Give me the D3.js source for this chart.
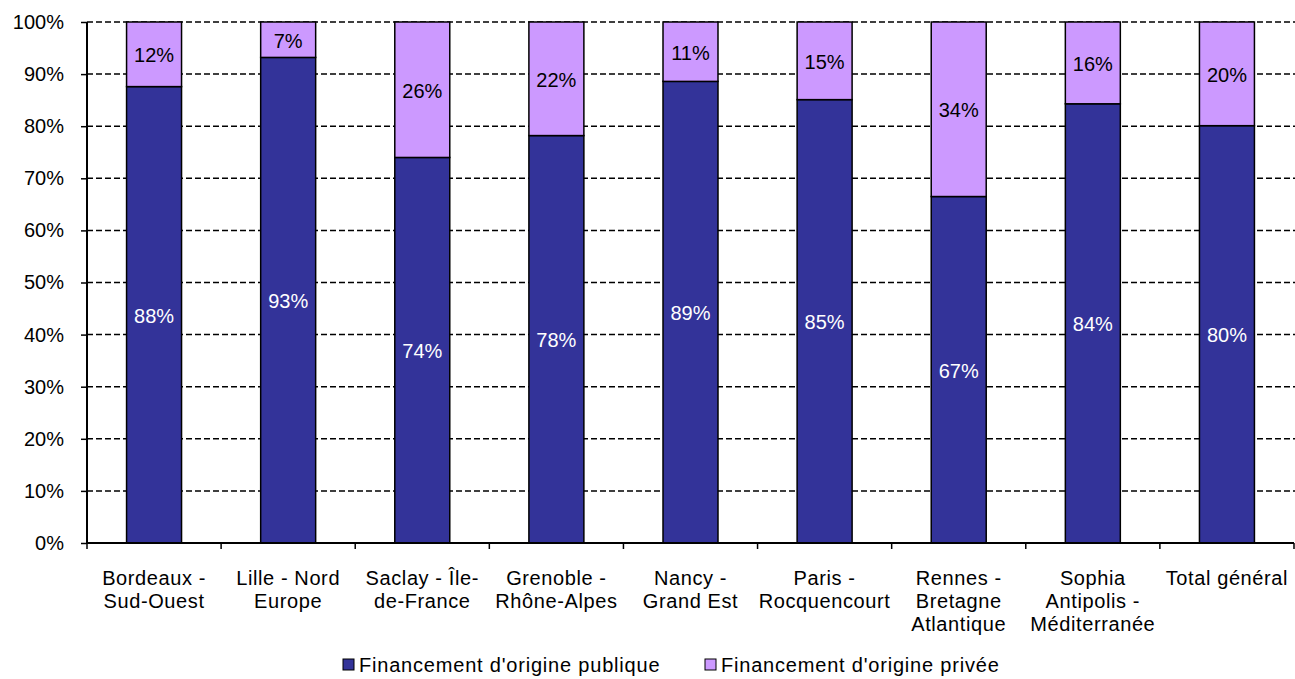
<!DOCTYPE html>
<html>
<head>
<meta charset="utf-8">
<script src="https://cdn.jsdelivr.net/npm/d3@7"></script>
<style>
  body { margin: 0; background: #fff; }
  svg text { font-family: "Liberation Sans", Arial, sans-serif; }
</style>
</head>
<body>
<div id="chart"></div>
<script>
// chart values
var categories = [
  ["Bordeaux -", "Sud-Ouest"],
  ["Lille - Nord", "Europe"],
  ["Saclay - Île-", "de-France"],
  ["Grenoble -", "Rhône-Alpes"],
  ["Nancy -", "Grand Est"],
  ["Paris -", "Rocquencourt"],
  ["Rennes -", "Bretagne", "Atlantique"],
  ["Sophia", "Antipolis -", "Méditerranée"],
  ["Total général"]
];
var publicShare = [87.6, 93.2, 74.0, 78.2, 88.6, 85.1, 66.5, 84.3, 80.1];
var privateShare = [12.4, 6.8, 26.0, 21.8, 11.4, 14.9, 33.5, 15.7, 19.9];
var yTicks = [0, 10, 20, 30, 40, 50, 60, 70, 80, 90, 100];
var seriesNames = ["Financement d'origine publique", "Financement d'origine privée"];
var seriesColors = ["#333399", "#CC99FF"];

var width = 1295, height = 679;
var plotLeft = 87, plotRight = 1294, plotTop = 22, plotBottom = 543;
var fontSize = "20px";

var svg = d3.select("#chart").append("svg")
  .attr("width", width)
  .attr("height", height);

var x = d3.scaleBand()
  .domain(d3.range(categories.length))
  .range([plotLeft, plotRight])
  .padding(0);
var barW = x.bandwidth() * 0.41;

var y = d3.scaleLinear()
  .domain([0, 100])
  .range([plotBottom, plotTop]);

// dashed gridlines
svg.append("g")
  .selectAll("line")
  .data(yTicks.filter(function(d) { return d > 0; }))
  .join("line")
  .attr("x1", plotLeft)
  .attr("x2", width)
  .attr("y1", function(d) { return y(d); })
  .attr("y2", function(d) { return y(d); })
  .attr("stroke", "#000")
  .attr("stroke-width", 1.5)
  .attr("stroke-dasharray", "6,3");

// y axis
var yAxis = svg.append("g")
  .attr("transform", "translate(" + plotLeft + ",0)")
  .call(d3.axisLeft(y).tickValues(yTicks).tickSize(6).tickPadding(17)
    .tickFormat(function(d) { return d + "%"; }));
yAxis.select(".domain").remove();
yAxis.selectAll("line").attr("stroke", "#000").attr("stroke-width", 1.5);
yAxis.selectAll("text").attr("font-size", fontSize).attr("fill", "#000")
  .style("font-family", "'Liberation Sans', Arial, sans-serif");
svg.append("line")
  .attr("x1", plotLeft).attr("x2", plotLeft)
  .attr("y1", plotTop).attr("y2", plotBottom)
  .attr("stroke", "#000").attr("stroke-width", 2);

// bars
var groups = svg.append("g").selectAll("g")
  .data(categories)
  .join("g")
  .attr("transform", function(d, i) {
    return "translate(" + (x(i) + (x.bandwidth() - barW) / 2) + ",0)";
  });

groups.append("rect")
  .attr("y", function(d, i) { return y(publicShare[i]); })
  .attr("width", barW)
  .attr("height", function(d, i) { return y(0) - y(publicShare[i]); })
  .attr("fill", seriesColors[0])
  .attr("stroke", "#000")
  .attr("stroke-width", 1.5);

groups.append("rect")
  .attr("y", function(d, i) { return y(publicShare[i] + privateShare[i]); })
  .attr("width", barW)
  .attr("height", function(d, i) { return y(publicShare[i]) - y(publicShare[i] + privateShare[i]); })
  .attr("fill", seriesColors[1])
  .attr("stroke", "#000")
  .attr("stroke-width", 1.5);

groups.append("text")
  .attr("x", barW / 2)
  .attr("y", function(d, i) { return y(publicShare[i] / 2); })
  .attr("dy", "0.4em")
  .attr("text-anchor", "middle")
  .attr("font-size", fontSize)
  .attr("fill", "#fff")
  .text(function(d, i) { return Math.round(publicShare[i]) + "%"; });

groups.append("text")
  .attr("x", barW / 2)
  .attr("y", function(d, i) { return y(publicShare[i] + privateShare[i] / 2); })
  .attr("dy", "0.4em")
  .attr("text-anchor", "middle")
  .attr("font-size", fontSize)
  .attr("fill", "#000")
  .text(function(d, i) { return Math.round(privateShare[i]) + "%"; });

// x axis
svg.append("line")
  .attr("x1", plotLeft).attr("x2", plotRight)
  .attr("y1", plotBottom).attr("y2", plotBottom)
  .attr("stroke", "#000").attr("stroke-width", 2);
svg.append("g").selectAll("line")
  .data(d3.range(categories.length + 1))
  .join("line")
  .attr("x1", function(i) { return plotLeft + i * x.step(); })
  .attr("x2", function(i) { return plotLeft + i * x.step(); })
  .attr("y1", plotBottom)
  .attr("y2", plotBottom + 6)
  .attr("stroke", "#000")
  .attr("stroke-width", 1.5);

svg.append("g").selectAll("text")
  .data(categories)
  .join("text")
  .attr("x", function(d, i) { return x(i) + x.bandwidth() / 2; })
  .attr("y", 585)
  .attr("text-anchor", "middle")
  .attr("font-size", fontSize)
  .attr("letter-spacing", "0.6px")
  .attr("fill", "#000")
  .each(function(d) {
    var t = d3.select(this);
    d.forEach(function(line, k) {
      t.append("tspan")
        .attr("x", t.attr("x"))
        .attr("dy", k == 0 ? 0 : 23)
        .text(line);
    });
  });

// legend
var legendX = [343, 705];
var legend = svg.append("g").selectAll("g")
  .data(seriesNames)
  .join("g")
  .attr("transform", function(d, i) { return "translate(" + legendX[i] + ",659)"; });
legend.append("rect")
  .attr("width", 11).attr("height", 11)
  .attr("fill", function(d, i) { return seriesColors[i]; })
  .attr("stroke", "#000").attr("stroke-width", 1);
legend.append("text")
  .attr("x", 16).attr("y", 6)
  .attr("dy", "0.37em")
  .attr("font-size", fontSize)
  .attr("letter-spacing", "0.8px")
  .attr("fill", "#000")
  .text(function(d) { return d; });
</script>
</body>
</html>
